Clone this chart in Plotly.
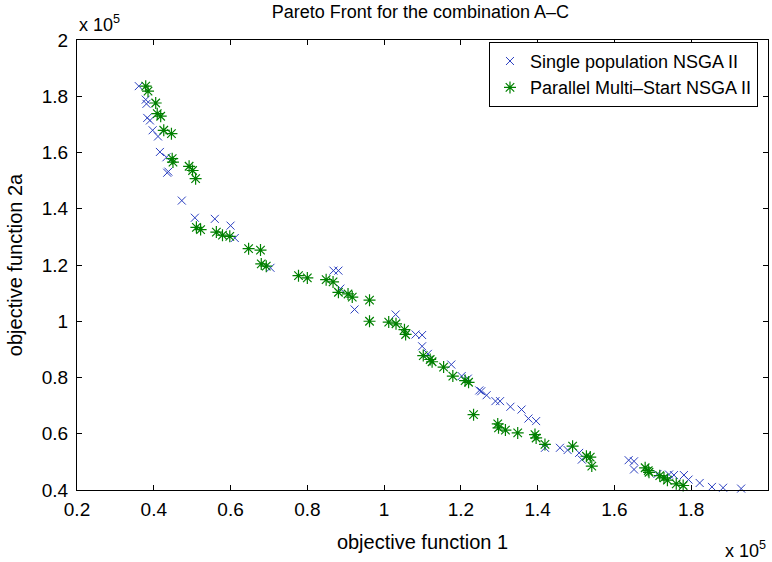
import plotly.graph_objects as go

# Data in units of 1e5
single_x = [0.361, 0.379, 0.381, 0.383, 0.390, 0.397, 0.411, 0.416, 0.433, 0.435, 0.438, 0.473,
            0.507, 0.559, 0.600, 0.611, 0.704, 0.868, 0.881, 0.886, 0.923, 1.030, 1.082, 1.099,
            1.099, 1.114, 1.175, 1.202, 1.218, 1.248, 1.253, 1.267, 1.290, 1.302, 1.329, 1.358,
            1.376, 1.396, 1.419, 1.458, 1.478, 1.508, 1.515, 1.637, 1.651, 1.651, 1.712, 1.742,
            1.755, 1.781, 1.793, 1.822, 1.854, 1.883, 1.930]
single_y = [1.836, 1.788, 1.773, 1.723, 1.714, 1.679, 1.657, 1.602, 1.583, 1.528, 1.532, 1.429,
            1.368, 1.364, 1.340, 1.296, 1.190, 1.180, 1.180, 1.116, 1.042, 1.024, 0.953, 0.951,
            0.911, 0.884, 0.846, 0.805, 0.796, 0.754, 0.751, 0.737, 0.716, 0.716, 0.696, 0.686,
            0.654, 0.645, 0.550, 0.550, 0.542, 0.532, 0.508, 0.506, 0.502, 0.473, 0.457, 0.455,
            0.453, 0.453, 0.437, 0.425, 0.411, 0.408, 0.405]

parallel_x = [0.379, 0.385, 0.405, 0.409, 0.418, 0.426, 0.446, 0.448, 0.450, 0.492, 0.501, 0.509,
              0.511, 0.522, 0.563, 0.579, 0.598, 0.647, 0.678, 0.680, 0.693, 0.777, 0.800, 0.849,
              0.867, 0.881, 0.906, 0.917, 0.962, 0.962, 1.012, 1.031, 1.053, 1.056, 1.102, 1.120,
              1.125, 1.155, 1.179, 1.211, 1.220, 1.233, 1.296, 1.298, 1.316, 1.348, 1.393, 1.396,
              1.419, 1.491, 1.527, 1.537, 1.541, 1.680, 1.688, 1.690, 1.718, 1.729, 1.738, 1.761,
              1.779]
parallel_y = [1.836, 1.818, 1.776, 1.738, 1.729, 1.679, 1.667, 1.578, 1.566, 1.551, 1.536, 1.507,
              1.334, 1.326, 1.317, 1.306, 1.302, 1.258, 1.253, 1.204, 1.196, 1.162, 1.154, 1.148,
              1.140, 1.103, 1.097, 1.086, 1.075, 1.000, 0.997, 0.991, 0.970, 0.953, 0.878, 0.864,
              0.856, 0.837, 0.805, 0.789, 0.783, 0.668, 0.635, 0.621, 0.613, 0.603, 0.597, 0.585,
              0.562, 0.556, 0.520, 0.517, 0.485, 0.479, 0.469, 0.463, 0.451, 0.443, 0.435, 0.422,
              0.416]

x_ticks = [0.2, 0.4, 0.6, 0.8, 1.0, 1.2, 1.4, 1.6, 1.8, 2.0]
x_tick_text = ["0.2", "0.4", "0.6", "0.8", "1", "1.2", "1.4", "1.6", "1.8", "2"]
y_ticks = [0.4, 0.6, 0.8, 1.0, 1.2, 1.4, 1.6, 1.8, 2.0]
y_tick_text = ["0.4", "0.6", "0.8", "1", "1.2", "1.4", "1.6", "1.8", "2"]

FONT = "Liberation Sans, Arial, Helvetica, sans-serif"

fig = go.Figure()
fig.add_trace(go.Scatter(
    x=single_x, y=single_y, mode="markers", name="Single population NSGA II",
    marker=dict(symbol="x-thin-open", size=8, color="#2b3fc0",
                line=dict(width=1, color="#2b3fc0")),
    cliponaxis=False,
))
fig.add_trace(go.Scatter(
    x=parallel_x, y=parallel_y, mode="markers", name="Parallel Multi\u2013Start NSGA II",
    marker=dict(symbol="asterisk-open", size=10, color="#008000",
                line=dict(width=1.2, color="#008000")),
    cliponaxis=False,
))

axis_common = dict(
    showgrid=False, zeroline=False, showline=True, linecolor="black", linewidth=1,
    mirror="ticks", ticks="inside", ticklen=5, tickcolor="black", tickwidth=1,
    tickfont=dict(family=FONT, size=19, color="black"),
)

fig.update_layout(
    width=772, height=562,
    margin=dict(l=77, r=4, t=40, b=72),
    paper_bgcolor="white", plot_bgcolor="white",
    font=dict(family=FONT, color="black"),
    title=dict(text="Pareto Front for the combination A\u2013C", x=0.497, xref="paper",
               xanchor="center", y=0.99, yanchor="top",
               font=dict(family=FONT, size=18, color="black")),
    xaxis=dict(range=[0.2, 2.0], tickvals=x_ticks, ticktext=x_tick_text,
               ticklabelstandoff=2,
               title=dict(text="objective function 1", font=dict(family=FONT, size=20), standoff=16),
               **axis_common),
    yaxis=dict(range=[0.4, 2.0], tickvals=y_ticks, ticktext=y_tick_text,
               ticklabelstandoff=4,
               title=dict(text="objective function 2a", font=dict(family=FONT, size=20), standoff=13),
               **axis_common),
    legend=dict(x=0.9855, xanchor="right", y=0.996, yanchor="top",
                bordercolor="black", borderwidth=1, bgcolor="white",
                font=dict(family=FONT, size=18, color="black"),
                itemwidth=30, tracegroupgap=0),
    showlegend=True,
)

fig.add_annotation(text="x 10<sup>5</sup>", xref="paper", yref="paper", x=0.0, y=1.0,
                   xanchor="left", yanchor="bottom", yshift=3, showarrow=False,
                   font=dict(family=FONT, size=18, color="black"))
fig.add_annotation(text="x 10<sup>5</sup>", xref="paper", yref="paper", x=1.0, y=-0.102,
                   xanchor="right", yanchor="top", showarrow=False,
                   font=dict(family=FONT, size=18, color="black"))

fig.write_html("out.html")
